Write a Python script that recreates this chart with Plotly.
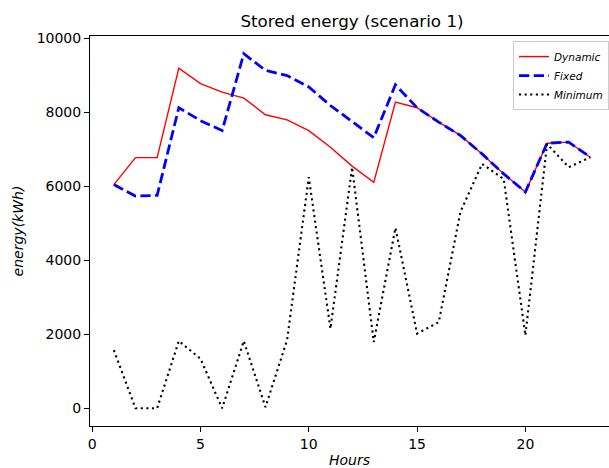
import plotly.graph_objects as go

# Hourly stored energy for scenario 1 (kWh)
hours = list(range(1, 24))
dynamic = [6050, 6780, 6780, 9200, 8780, 8550, 8390, 7940, 7800, 7510, 7060, 6550,
           6110, 8280, 8130, 7740, 7380, 6880, 6340, 5850, 7170, 7200, 6790]
fixed = [6050, 5740, 5760, 8130, 7780, 7510, 9590, 9140, 9000, 8690, 8190, 7760,
         7320, 8750, 8130, 7740, 7380, 6880, 6340, 5850, 7170, 7200, 6790]
minimum = [1570, 0, 0, 1820, 1340, 0, 1820, 30, 1850, 6250, 2150, 6520,
           1790, 4880, 2020, 2330, 5310, 6610, 6200, 1970, 7150, 6520, 6790]

x_ticks = [0, 5, 10, 15, 20]
y_ticks = [0, 2000, 4000, 6000, 8000, 10000]
y_ticktext = [str(v) for v in y_ticks]

FONT = "DejaVu Sans"

fig = go.Figure()
fig.add_trace(go.Scatter(x=hours, y=dynamic, mode="lines", name="<i>Dynamic</i>",
                         line=dict(color="#ff0000", width=1.4)))
fig.add_trace(go.Scatter(x=hours, y=fixed, mode="lines", name="<i>Fixed</i>",
                         line=dict(color="#0000ff", width=2.8, dash="10.3px,4.4px")))
fig.add_trace(go.Scatter(x=hours, y=minimum, mode="lines", name="<i>Minimum</i>",
                         line=dict(color="#000000", width=2.1, dash="2.1px,3.5px")))

fig.update_layout(
    width=609, height=468,
    margin=dict(l=90, r=0, t=36, b=42),
    paper_bgcolor="white", plot_bgcolor="white",
    font=dict(family=FONT, size=14, color="black"),
    title=dict(text="Stored energy (scenario 1)", x=352 / 609, xref="container",
               xanchor="center", y=1 - 21 / 468, yref="container", yanchor="middle",
               font=dict(family=FONT, size=16.7, color="black")),
    xaxis=dict(range=[-0.1, 23.86], tickvals=x_ticks, ticks="outside", ticklen=5,
               tickwidth=1, tickcolor="black", showline=True, linecolor="black",
               linewidth=1, mirror=True, showgrid=False, zeroline=False,
               tickfont=dict(size=14),
               title=dict(text="<i>Hours</i>", font=dict(size=14), standoff=4)),
    yaxis=dict(range=[-480, 10070], tickvals=y_ticks, ticktext=y_ticktext,
               ticks="outside", ticklen=5,
               tickwidth=1, tickcolor="black", showline=True, linecolor="black",
               linewidth=1, showgrid=False, zeroline=False,
               tickfont=dict(size=14),
               title=dict(text="<i>energy(kWh)</i>", font=dict(size=14), standoff=9)),
    legend=dict(x=1, xanchor="right", y=0.987, yanchor="top",
                bgcolor="rgba(255,255,255,0.8)", bordercolor="#cccccc", borderwidth=1,
                font=dict(family=FONT, size=10.5, color="black"),
                itemwidth=30, tracegroupgap=0),
)

fig.write_html("out.html")
